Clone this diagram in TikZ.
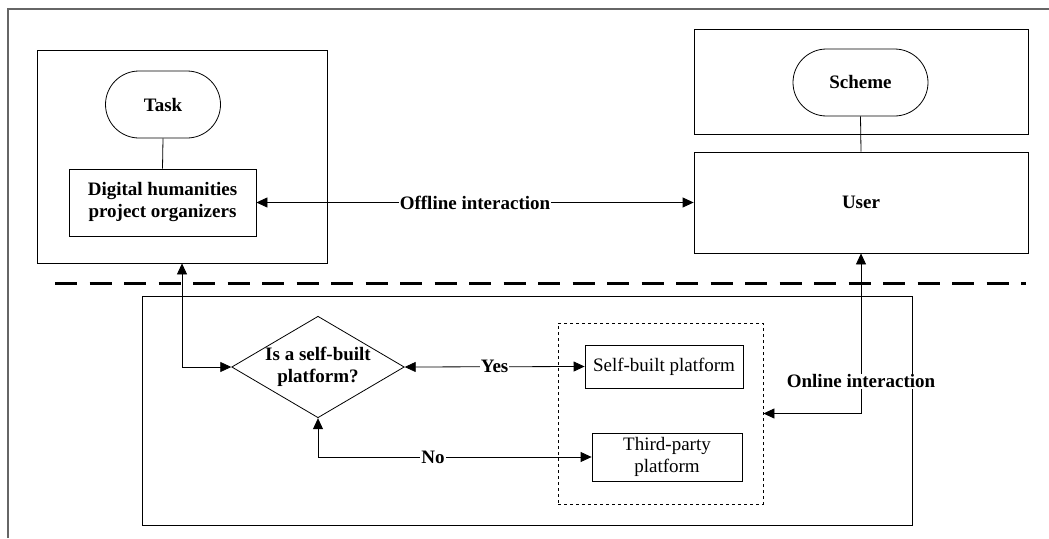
\documentclass[tikz,border=0pt]{standalone}
\usepackage{fontspec}
\setmainfont{Liberation Serif}
\usetikzlibrary{shapes.geometric,shapes.misc,arrows.meta}
\begin{document}
\begin{tikzpicture}[x=1pt,y=-1pt,
  every node/.style={font=\fontsize{19}{22}\selectfont},
  box/.style={draw, line width=0.8pt, rectangle, inner sep=0pt, align=center},
  term/.style={draw, line width=0.8pt, rounded rectangle, inner sep=0pt, align=center, font=\fontsize{19}{22}\selectfont\bfseries},
  lbl/.style={fill=white, inner sep=1pt, font=\fontsize{19}{22}\selectfont\bfseries},
  conn/.style={line width=0.8pt},
  biarrow/.style={conn, {Triangle[length=11pt,width=10pt]}-{Triangle[length=11pt,width=10pt]}}
]
\useasboundingbox (0,0) rectangle (1049,538);
% outer frame (partial)
\draw[line width=1.3pt, gray!80!black] (8,538) -- (8,9) -- (1049,9);
% upper left group
\node[box, minimum width=290pt, minimum height=213pt] (leftbox) at (182,156.5) {};
\node[term, minimum width=115pt, minimum height=67pt] (task) at (163,104.5) {Task};
\node[box, font=\fontsize{19}{22}\selectfont\bfseries, minimum width=187pt, minimum height=67pt] (dh) at (162.5,202.5) {Digital humanities\\project organizers};
\draw[conn] (task.south) -- (dh.north);
% upper right group
\node[box, minimum width=334pt, minimum height=105pt] (rtop) at (861,81.5) {};
\node[term, minimum width=135pt, minimum height=67pt] (scheme) at (860.5,82.5) {Scheme};
\node[box, font=\fontsize{19}{22}\selectfont\bfseries, minimum width=334pt, minimum height=101pt] (user) at (861,202.5) {User};
\draw[conn] (scheme.south) -- (user.north);
% offline interaction
\draw[biarrow] (dh.east) -- node[lbl] {Offline interaction} (user.west);
% separator
\draw[line width=3pt, dash pattern=on 22pt off 12.5pt] (55,283) -- (1026,283);
% lower group
\node[box, minimum width=770pt, minimum height=229pt] (bottom) at (527,410.5) {};
\node[box, dashed, minimum width=205pt, minimum height=181pt] (dashbox) at (660.5,413.5) {};
\node[draw, line width=0.8pt, diamond, aspect=1.7, inner sep=0pt, minimum width=170pt, minimum height=100pt, align=center, font=\fontsize{19}{22}\selectfont\bfseries] (dia) at (318,367) {Is a self-built\\platform?};
\node[box, minimum width=158pt, minimum height=43pt] (sbp) at (664,366.5) {Self-built platform};
\node[box, minimum width=150pt, minimum height=48pt] (tpp) at (667,457) {Third-party\\platform};
% connectors
\draw[biarrow] (leftbox.south) |- (dia.west);
\draw[biarrow] (dia.east) -- node[lbl, pos=0.5] {Yes} (sbp.west);
\draw[biarrow] (dia.south) |- node[lbl, pos=0.71] {No} (tpp.west);
\draw[biarrow] (user.south) |- node[lbl, pos=0.40] {Online interaction} (dashbox.east);
\end{tikzpicture}
\end{document}
